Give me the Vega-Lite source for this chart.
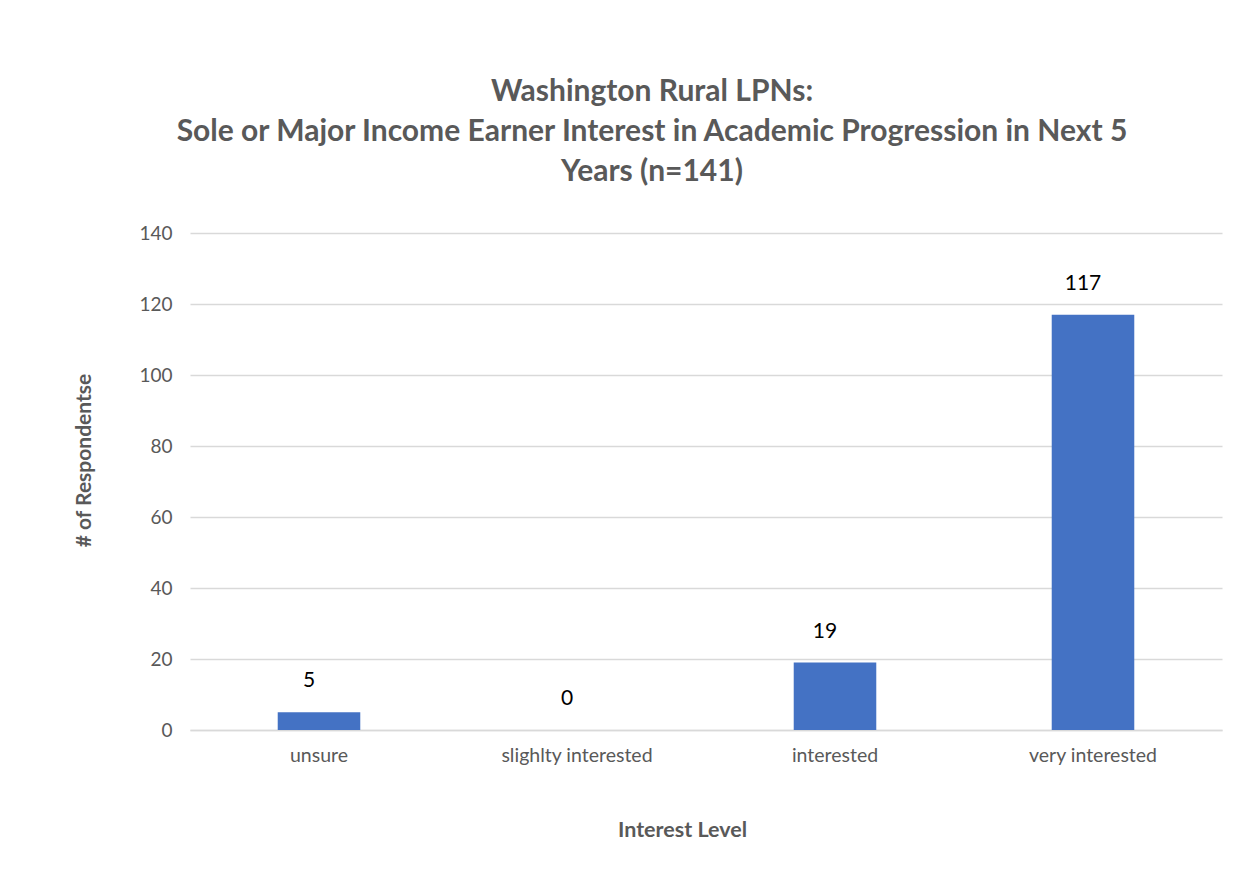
{
  "$schema": "https://vega.github.io/schema/vega-lite/v6.json",
  "autosize": {"type": "none"},
  "width": 1032,
  "height": 497,
  "padding": {"left": 190, "top": 233, "right": 25, "bottom": 156},
  "background": "white",
  "title": {
    "text": ["Washington Rural LPNs:", "Sole or Major Income Earner Interest in Academic Progression in Next 5", "Years (n=141)"],
    "font": "Lato",
    "fontSize": 30,
    "fontWeight": "bold",
    "color": "#595959",
    "lineHeight": 40,
    "anchor": "middle",
    "frame": "group",
    "dx": -54,
    "offset": 37
  },
  "data": {
    "values": [
      {"level": "unsure", "count": 5},
      {"level": "slighlty interested", "count": 0},
      {"level": "interested", "count": 19},
      {"level": "very interested", "count": 117}
    ]
  },
  "encoding": {
    "x": {
      "field": "level",
      "type": "nominal",
      "sort": null,
      "scale": {"paddingInner": 0.68, "paddingOuter": 0.34},
      "axis": {
        "title": "Interest Level",
        "labelAngle": 0,
        "labelFont": "Lato",
        "labelFontSize": 19.5,
        "labelColor": "#595959",
        "labelPadding": 16,
        "ticks": false,
        "domainColor": "#d9d9d9",
        "domainWidth": 1.5,
        "titleFont": "Lato",
        "titleFontSize": 21.5,
        "titleFontWeight": "bold",
        "titleColor": "#595959",
        "titleX": 492,
        "titleY": 100,
        "titleBaseline": "middle",
        "titleAlign": "center"
      }
    },
    "y": {
      "field": "count",
      "type": "quantitative",
      "scale": {"domain": [0, 140], "nice": false},
      "axis": {
        "title": "# of Respondentse",
        "values": [0, 20, 40, 60, 80, 100, 120, 140],
        "labelFont": "Lato",
        "labelFontSize": 19,
        "labelColor": "#595959",
        "labelPadding": 18,
        "ticks": false,
        "domain": false,
        "gridColor": "#d9d9d9",
        "gridWidth": 1.5,
        "titleFont": "Lato",
        "titleFontSize": 21,
        "titleFontWeight": "bold",
        "titleColor": "#595959",
        "titleAngle": -90,
        "titleX": -106,
        "titleY": 227,
        "titleAlign": "center",
        "titleBaseline": "middle"
      }
    }
  },
  "layer": [
    {"mark": {"type": "bar", "color": "#4472C4"}},
    {
      "mark": {"type": "text", "font": "Lato", "fontSize": 21, "color": "#000000", "dy": -31, "dx": -10, "baseline": "middle"},
      "encoding": {"text": {"field": "count", "type": "quantitative"}}
    }
  ],
  "config": {"view": {"stroke": null}}
}
